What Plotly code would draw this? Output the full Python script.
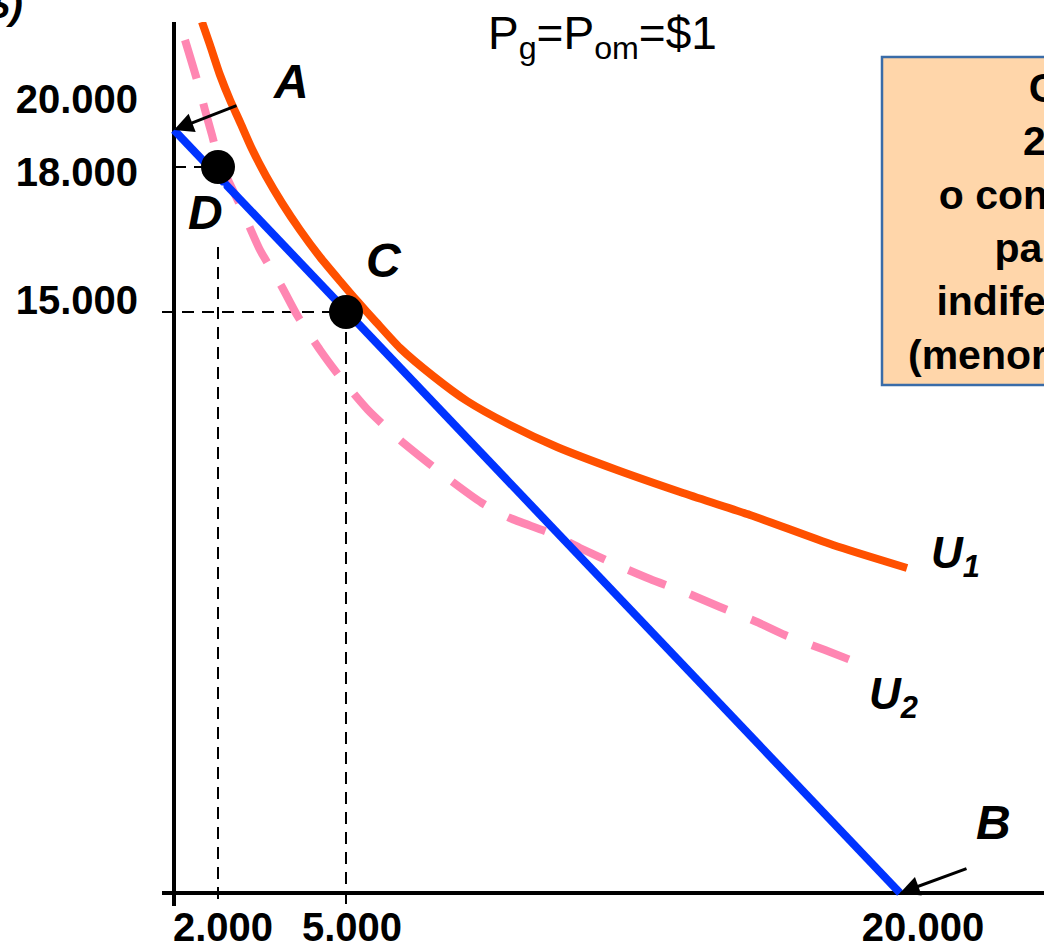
import plotly.graph_objects as go

FONT = "Liberation Sans"

# ---- data (sketch axis units, origin = corner of the axes) ----
budget_x = [0, 726]
budget_y = [763, 0]

u1_x = [28, 36, 46, 56, 66, 78, 92, 108, 126, 146, 166, 184, 202, 226, 259, 293, 336, 383, 443, 509, 576, 659, 733]
u1_y = [871, 848, 818, 793, 771, 744, 717, 690, 663, 636, 612, 591, 571, 545, 517, 492, 468, 446, 423, 400, 378, 348, 325]

u2_x = [11, 23, 31, 38, 44, 54, 66, 76, 86, 108, 123, 146, 166, 194, 226, 276, 308, 336, 376, 406, 443, 476, 513, 546, 583, 611, 651, 684]
u2_y = [853, 813, 783, 758, 736, 713, 688, 665, 643, 606, 578, 543, 516, 483, 453, 413, 390, 375, 360, 345, 328, 314, 300, 286, 271, 258, 243, 230]

point_names = ["D", "C"]
point_x = [44, 172]
point_y = [726, 581]

x_tick_pos = [49, 178, 749]
x_tick_text = ["2.000", "5.000", "20.000"]
y_tick_pos = [794, 721, 593]
y_tick_text = ["20.000", "18.000", "15.000"]

box_lines = ["Com", "2.000", "o consumidor", "para um",
             "indiferença U<sub>2</sub>", "(menor utilidade)"]

X_RANGE = [-12, 870]
Y_RANGE = [-13, 871]

ORANGE = "#FF5000"
BLUE = "#0033FF"
PINK = "#FF86B2"

fig = go.Figure()

# dashed guide lines from D and C to the axes
guide_start_x = [0, X_RANGE[0]]
for px_, py_, gx in zip(point_x, point_y, guide_start_x):
    fig.add_trace(go.Scatter(x=[gx, px_], y=[py_, py_], mode="lines",
                             line=dict(color="black", width=2, dash="12px,8px"),
                             hoverinfo="skip"))
    fig.add_trace(go.Scatter(x=[px_, px_], y=[py_, Y_RANGE[0]], mode="lines",
                             line=dict(color="black", width=2, dash="12px,8px"),
                             hoverinfo="skip"))

# U2 (dashed pink)
fig.add_trace(go.Scatter(x=u2_x, y=u2_y, mode="lines",
                         line=dict(color=PINK, width=8, dash="40px,26px", shape="spline", smoothing=0.6),
                         hoverinfo="skip"))
# budget line
fig.add_trace(go.Scatter(x=budget_x, y=budget_y, mode="lines",
                         line=dict(color=BLUE, width=8), hoverinfo="skip"))
# U1 (orange)
fig.add_trace(go.Scatter(x=u1_x, y=u1_y, mode="lines",
                         line=dict(color=ORANGE, width=8, shape="spline", smoothing=0.6),
                         hoverinfo="skip"))
# points D and C
fig.add_trace(go.Scatter(x=point_x, y=point_y, mode="markers",
                         marker=dict(color="black", size=34), hoverinfo="skip"))

# orange note box (extends past the right edge)
fig.add_shape(type="rect", xref="x", yref="y", x0=708, x1=1000, y0=508, y1=836,
              fillcolor="#FFD6AA", line=dict(color="#3A6CA8", width=2.5), layer="above")

ann = []
letter_font = dict(family=FONT, size=48, color="black")
for txt, x, y in [("A", 117, 812), ("D", 31, 681), ("C", 210, 633), ("B", 819, 71)]:
    ann.append(dict(x=x, y=y, xref="x", yref="y", text=f"<b><i>{txt}</i></b>",
                    showarrow=False, font=letter_font,
                    bgcolor="white" if txt == "D" else None, borderpad=0))
u_font = dict(family=FONT, size=44, color="black")
ann.append(dict(x=781, y=337, xref="x", yref="y", text="<b><i>U<sub>1</sub></i></b>",
                showarrow=False, font=u_font))
ann.append(dict(x=719, y=196, xref="x", yref="y", text="<b><i>U<sub>2</sub></i></b>",
                showarrow=False, font=u_font))

# arrows to the intercepts
ann.append(dict(x=budget_x[0], y=budget_y[0], xref="x", yref="y", text="",
                showarrow=True, ax=64, ay=-25, arrowhead=2, arrowsize=1.3,
                arrowwidth=3, arrowcolor="black"))
ann.append(dict(x=budget_x[1], y=budget_y[1], xref="x", yref="y", text="",
                showarrow=True, ax=68, ay=-25, arrowhead=2, arrowsize=1.3,
                arrowwidth=3, arrowcolor="black"))

# title
ann.append(dict(x=0.4989, y=0.984, xref="paper", yref="paper",
                text="P<sub>g</sub>=P<sub>om</sub>=$1", showarrow=False,
                font=dict(family=FONT, size=46, color="black"),
                xanchor="center", yanchor="middle"))
# cut-off axis title
ann.append(dict(x=-0.155, y=1.019, xref="paper", yref="paper",
                text="<b><i>($)</i></b>", showarrow=False,
                font=dict(family=FONT, size=40, color="black"),
                xanchor="right", yanchor="middle"))
# box text
ann.append(dict(x=1.0351, y=0.7745, xref="paper", yref="paper",
                text="<b>" + "<br>".join(box_lines) + "</b>", showarrow=False,
                align="center", xanchor="center", yanchor="middle",
                font=dict(family=FONT, size=41, color="black")))

fig.update_layout(
    width=1044, height=949,
    margin=dict(l=162, r=0, t=22, b=43, autoexpand=False),
    plot_bgcolor="white", paper_bgcolor="white",
    showlegend=False,
    annotations=ann,
    xaxis=dict(range=X_RANGE, showgrid=False, showline=False, automargin=False,
               zeroline=True, zerolinecolor="black", zerolinewidth=4,
               tickvals=x_tick_pos, ticktext=[f"<b>{t}</b>" for t in x_tick_text],
               ticks="", ticklabelstandoff=-6,
               tickfont=dict(family=FONT, size=40, color="black")),
    yaxis=dict(range=Y_RANGE, showgrid=False, showline=False, automargin=False,
               zeroline=True, zerolinecolor="black", zerolinewidth=4,
               tickvals=y_tick_pos, ticktext=[f"<b>{t}</b>" for t in y_tick_text],
               ticks="", ticklabelstandoff=23,
               tickfont=dict(family=FONT, size=40, color="black")),
)

fig.write_html("out.html", config={"displayModeBar": False},
               post_script="document.body.style.margin='0';document.body.style.overflow='hidden';")
